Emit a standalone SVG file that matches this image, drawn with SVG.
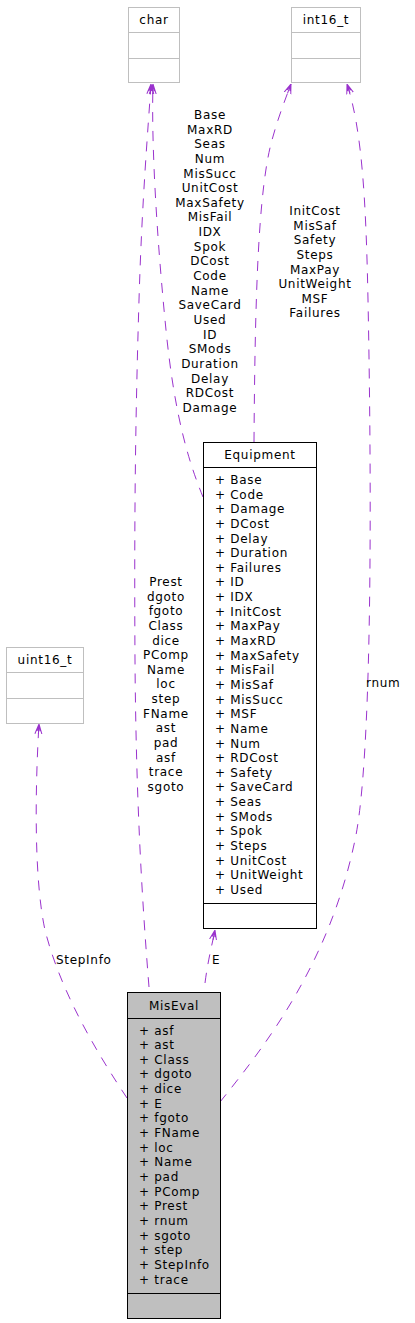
<svg xmlns="http://www.w3.org/2000/svg" width="415" height="1323" viewBox="0 0 415 1323">
<style>
text{font-family:"DejaVu Sans","Liberation Sans",sans-serif;font-size:12px;letter-spacing:0.7px;fill:#000}
.c{text-anchor:middle}
.gray{fill:#fff;stroke:#bfbfbf;stroke-width:1}
.glin{stroke:#bfbfbf;stroke-width:1}
.blk{fill:#fff;stroke:#000;stroke-width:1}
.sel{fill:#bfbfbf;stroke:#000;stroke-width:1}
.blin{stroke:#000;stroke-width:1}
.e{fill:none;stroke:#9a32cd;stroke-width:1;stroke-dasharray:10,9;marker-end:url(#arr)}
</style>
<defs>
<marker id="arr" viewBox="0 0 10 10" refX="10" refY="5" markerWidth="10" markerHeight="10" markerUnits="userSpaceOnUse" orient="auto">
<path d="M0,1.5 L10,5 L0,8.5 M0,5 L10,5 M3,3.5 L10,5 L3,6.5" fill="none" stroke="#9a32cd" stroke-width="1"/>
</marker>
</defs>
<rect width="415" height="1323" fill="#fff"/>
<g id="connectors">
<path class="e" d="M149,987 C142,900 136,800 135,660 C134,500 136,400 139,300 C142,200 148,130 151,84"/>
<path class="e" d="M203,497 C190,465 175,420 166,330 C158,250 151,150 153,84"/>
<path class="e" d="M254,442 C255,300 258,190 272,140 C278,118 285,100 291,84"/>
<path class="e" d="M220,1102 C270,1040 330,960 355,840 C372,760 372,500 368,300 C366,200 362,130 347,84"/>
<path class="e" d="M127,1098 C95,1050 60,990 45,930 C34,880 35,790 39,724"/>
<path class="e" d="M205,983 C208,960 212,945 215,930"/>
<text class="c" x="210" y="119"><tspan x="210" dy="0">Base</tspan><tspan x="210" dy="14.64">MaxRD</tspan><tspan x="210" dy="14.64">Seas</tspan><tspan x="210" dy="14.64">Num</tspan><tspan x="210" dy="14.64">MisSucc</tspan><tspan x="210" dy="14.64">UnitCost</tspan><tspan x="210" dy="14.64">MaxSafety</tspan><tspan x="210" dy="14.64">MisFail</tspan><tspan x="210" dy="14.64">IDX</tspan><tspan x="210" dy="14.64">Spok</tspan><tspan x="210" dy="14.64">DCost</tspan><tspan x="210" dy="14.64">Code</tspan><tspan x="210" dy="14.64">Name</tspan><tspan x="210" dy="14.64">SaveCard</tspan><tspan x="210" dy="14.64">Used</tspan><tspan x="210" dy="14.64">ID</tspan><tspan x="210" dy="14.64">SMods</tspan><tspan x="210" dy="14.64">Duration</tspan><tspan x="210" dy="14.64">Delay</tspan><tspan x="210" dy="14.64">RDCost</tspan><tspan x="210" dy="14.64">Damage</tspan></text>
<text class="c" x="315" y="215"><tspan x="315" dy="0">InitCost</tspan><tspan x="315" dy="14.64">MisSaf</tspan><tspan x="315" dy="14.64">Safety</tspan><tspan x="315" dy="14.64">Steps</tspan><tspan x="315" dy="14.64">MaxPay</tspan><tspan x="315" dy="14.64">UnitWeight</tspan><tspan x="315" dy="14.64">MSF</tspan><tspan x="315" dy="14.64">Failures</tspan></text>
<text class="c" x="166" y="586"><tspan x="166" dy="0">Prest</tspan><tspan x="166" dy="14.64">dgoto</tspan><tspan x="166" dy="14.64">fgoto</tspan><tspan x="166" dy="14.64">Class</tspan><tspan x="166" dy="14.64">dice</tspan><tspan x="166" dy="14.64">PComp</tspan><tspan x="166" dy="14.64">Name</tspan><tspan x="166" dy="14.64">loc</tspan><tspan x="166" dy="14.64">step</tspan><tspan x="166" dy="14.64">FName</tspan><tspan x="166" dy="14.64">ast</tspan><tspan x="166" dy="14.64">pad</tspan><tspan x="166" dy="14.64">asf</tspan><tspan x="166" dy="14.64">trace</tspan><tspan x="166" dy="14.64">sgoto</tspan></text>
<text x="56" y="964">StepInfo</text>
<text x="212" y="964">E</text>
<text x="366" y="687">rnum</text>
</g>
<g id="node-char">
<rect class="gray" x="128.5" y="7.5" width="51" height="75"/>
<line class="glin" x1="128.5" y1="32.5" x2="179.5" y2="32.5"/>
<line class="glin" x1="128.5" y1="58.5" x2="179.5" y2="58.5"/>
<text class="c" x="154" y="24">char</text>
</g>
<g id="node-int16_t">
<rect class="gray" x="291.5" y="7.5" width="69" height="75"/>
<line class="glin" x1="291.5" y1="32.5" x2="360.5" y2="32.5"/>
<line class="glin" x1="291.5" y1="58.5" x2="360.5" y2="58.5"/>
<text class="c" x="326" y="24">int16_t</text>
</g>
<g id="node-uint16_t">
<rect class="gray" x="6.5" y="647.5" width="77" height="76"/>
<line class="glin" x1="6.5" y1="672.5" x2="83.5" y2="672.5"/>
<line class="glin" x1="6.5" y1="698.5" x2="83.5" y2="698.5"/>
<text class="c" x="45" y="664">uint16_t</text>
</g>
<g id="node-Equipment">
<rect class="blk" x="203.5" y="442.5" width="113" height="486"/>
<line class="blin" x1="203.5" y1="467.5" x2="316.5" y2="467.5"/>
<line class="blin" x1="203.5" y1="903.5" x2="316.5" y2="903.5"/>
<text class="c" x="260" y="459">Equipment</text>
<text x="215" y="484"><tspan x="215" dy="0">+ Base</tspan><tspan x="215" dy="14.64">+ Code</tspan><tspan x="215" dy="14.64">+ Damage</tspan><tspan x="215" dy="14.64">+ DCost</tspan><tspan x="215" dy="14.64">+ Delay</tspan><tspan x="215" dy="14.64">+ Duration</tspan><tspan x="215" dy="14.64">+ Failures</tspan><tspan x="215" dy="14.64">+ ID</tspan><tspan x="215" dy="14.64">+ IDX</tspan><tspan x="215" dy="14.64">+ InitCost</tspan><tspan x="215" dy="14.64">+ MaxPay</tspan><tspan x="215" dy="14.64">+ MaxRD</tspan><tspan x="215" dy="14.64">+ MaxSafety</tspan><tspan x="215" dy="14.64">+ MisFail</tspan><tspan x="215" dy="14.64">+ MisSaf</tspan><tspan x="215" dy="14.64">+ MisSucc</tspan><tspan x="215" dy="14.64">+ MSF</tspan><tspan x="215" dy="14.64">+ Name</tspan><tspan x="215" dy="14.64">+ Num</tspan><tspan x="215" dy="14.64">+ RDCost</tspan><tspan x="215" dy="14.64">+ Safety</tspan><tspan x="215" dy="14.64">+ SaveCard</tspan><tspan x="215" dy="14.64">+ Seas</tspan><tspan x="215" dy="14.64">+ SMods</tspan><tspan x="215" dy="14.64">+ Spok</tspan><tspan x="215" dy="14.64">+ Steps</tspan><tspan x="215" dy="14.64">+ UnitCost</tspan><tspan x="215" dy="14.64">+ UnitWeight</tspan><tspan x="215" dy="14.64">+ Used</tspan></text>
</g>
<g id="node-MisEval">
<rect class="sel" x="127.5" y="992.5" width="93" height="326"/>
<line class="blin" x1="127.5" y1="1018.5" x2="220.5" y2="1018.5"/>
<line class="blin" x1="127.5" y1="1293.5" x2="220.5" y2="1293.5"/>
<text class="c" x="174" y="1010">MisEval</text>
<text x="139" y="1034.5"><tspan x="139" dy="0">+ asf</tspan><tspan x="139" dy="14.66">+ ast</tspan><tspan x="139" dy="14.66">+ Class</tspan><tspan x="139" dy="14.66">+ dgoto</tspan><tspan x="139" dy="14.66">+ dice</tspan><tspan x="139" dy="14.66">+ E</tspan><tspan x="139" dy="14.66">+ fgoto</tspan><tspan x="139" dy="14.66">+ FName</tspan><tspan x="139" dy="14.66">+ loc</tspan><tspan x="139" dy="14.66">+ Name</tspan><tspan x="139" dy="14.66">+ pad</tspan><tspan x="139" dy="14.66">+ PComp</tspan><tspan x="139" dy="14.66">+ Prest</tspan><tspan x="139" dy="14.66">+ rnum</tspan><tspan x="139" dy="14.66">+ sgoto</tspan><tspan x="139" dy="14.66">+ step</tspan><tspan x="139" dy="14.66">+ StepInfo</tspan><tspan x="139" dy="14.66">+ trace</tspan></text>
</g>
</svg>
